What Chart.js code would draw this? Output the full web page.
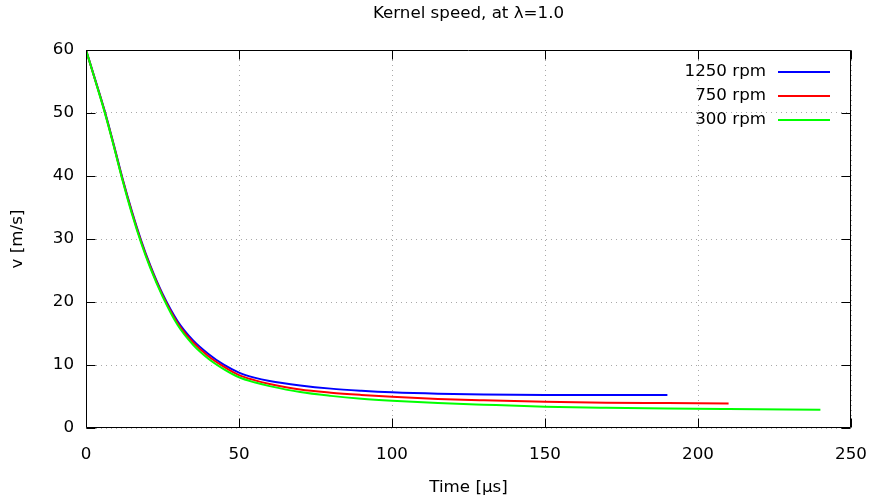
<!DOCTYPE html>
<html>
<head>
<meta charset="utf-8">
<script src="https://cdn.jsdelivr.net/npm/chart.js@4/dist/chart.umd.min.js"></script>
<style>
  html, body { margin: 0; padding: 0; background: #fff; }
  canvas { display: block; }
</style>
</head>
<body>
<canvas id="c" width="872" height="504"></canvas>
<script>
// Kernel speed vs. time for three rotor speeds (time in µs, speed in m/s)
const seriesLabels = ['1250 rpm', '750 rpm', '300 rpm'];
const seriesColors = ['#0000ff', '#ff0000', '#00ff00'];

const t1250 = [0, 3, 6, 9, 12, 15, 18, 21, 25, 30, 35, 40, 45, 50, 55, 60, 70, 80, 90, 100, 115, 130, 150, 170, 190];
const v1250 = [60, 55.3, 50.5, 45.1, 39.5, 34.4, 29.8, 25.8, 21.3, 16.9, 13.9, 11.75, 10.05, 8.8, 8.0, 7.45, 6.75, 6.25, 5.92, 5.67, 5.44, 5.32, 5.24, 5.22, 5.22];

const t750 = [0, 3, 6, 9, 12, 15, 18, 21, 25, 30, 35, 40, 45, 50, 55, 60, 70, 80, 90, 100, 115, 130, 150, 170, 190, 210];
const v750 = [60, 55.25, 50.4, 45.0, 39.35, 34.2, 29.6, 25.6, 21.1, 16.6, 13.6, 11.4, 9.75, 8.4, 7.6, 7.0, 6.1, 5.6, 5.25, 4.97, 4.62, 4.4, 4.18, 4.02, 3.96, 3.9];

const t300 = [0, 3, 6, 9, 12, 15, 18, 21, 25, 30, 35, 40, 45, 50, 55, 60, 70, 80, 90, 100, 115, 130, 150, 170, 190, 210, 240];
const v300 = [60, 55.2, 50.3, 44.9, 39.2, 34.0, 29.4, 25.4, 20.9, 16.3, 13.2, 11.0, 9.35, 8.05, 7.25, 6.65, 5.7, 5.1, 4.65, 4.33, 3.97, 3.7, 3.38, 3.2, 3.08, 3.0, 2.9];

const xTickValues = [0, 50, 100, 150, 200, 250];
const yTickValues = [0, 10, 20, 30, 40, 50, 60];

const titleText = 'Kernel speed, at λ=1.0';
const xTitle = 'Time [µs]';
const yTitle = 'v [m/s]';

const FONT = 'DejaVu Sans';
const FSIZE = 16.7;

const toPoints = (ts, vs) => ts.map((t, i) => ({ x: t, y: vs[i] }));
const times = [t1250, t750, t300];
const speeds = [v1250, v750, v300];

const datasets = seriesLabels.map((lab, i) => ({
  label: lab,
  data: toPoints(times[i], speeds[i]),
  borderColor: seriesColors[i],
  backgroundColor: seriesColors[i],
  borderWidth: 2,
  pointRadius: 0,
  fill: false,
  cubicInterpolationMode: 'monotone',
  order: seriesLabels.length - i   // later series drawn on top
}));

// gnuplot-like frame, mirrored inward ticks, title, axis titles and key
const framePlugin = {
  id: 'frame',
  afterDraw(chart) {
    const { ctx, chartArea: a, scales } = chart;
    const L = Math.round(a.left) + 0.5, R = Math.round(a.right) - 0.5;
    const T = Math.round(a.top) + 0.5, B = Math.round(a.bottom) - 0.5;
    const tick = 9;
    ctx.save();
    ctx.strokeStyle = '#000';
    ctx.lineWidth = 1;
    ctx.beginPath();
    ctx.rect(L, T, R - L, B - T);
    scales.x.ticks.forEach(tk => {
      const x = Math.round(scales.x.getPixelForValue(tk.value)) + 0.5;
      ctx.moveTo(x, B); ctx.lineTo(x, B - tick);
      ctx.moveTo(x, T); ctx.lineTo(x, T + tick);
    });
    scales.y.ticks.forEach(tk => {
      const y = Math.round(scales.y.getPixelForValue(tk.value)) + 0.5;
      ctx.moveTo(L, y); ctx.lineTo(L + tick, y);
      ctx.moveTo(R, y); ctx.lineTo(R - tick, y);
    });
    ctx.stroke();

    ctx.fillStyle = '#000';
    ctx.font = FSIZE + 'px "' + FONT + '"';
    ctx.textBaseline = 'middle';
    ctx.textAlign = 'center';
    const cx = (a.left + a.right) / 2;
    ctx.fillText(titleText, cx, 14);
    ctx.fillText(xTitle, cx, 488);
    ctx.save();
    ctx.translate(18, (a.top + a.bottom) / 2);
    ctx.rotate(-Math.PI / 2);
    ctx.fillText(yTitle, 0, 0);
    ctx.restore();

    // key, text to the left of the line sample
    chart.data.datasets.forEach((ds, i) => {
      const y = a.top + 22 + i * 24;
      ctx.textAlign = 'right';
      ctx.fillStyle = '#000';
      ctx.fillText(ds.label, a.right - 85, y);
      ctx.strokeStyle = ds.borderColor;
      ctx.lineWidth = 2;
      ctx.beginPath();
      ctx.moveTo(a.right - 73, Math.round(y));
      ctx.lineTo(a.right - 21, Math.round(y));
      ctx.stroke();
    });
    ctx.restore();
  }
};

new Chart(document.getElementById('c'), {
  type: 'line',
  data: { datasets },
  options: {
    responsive: false,
    animation: false,
    devicePixelRatio: 1,
    layout: { padding: { left: 0, top: 50, right: 21, bottom: 0 } },
    plugins: { legend: { display: false }, title: { display: false }, tooltip: { enabled: false } },
    scales: {
      x: {
        type: 'linear',
        min: xTickValues[0],
        max: xTickValues[xTickValues.length - 1],
        afterBuildTicks(scale) { scale.ticks = xTickValues.map(v => ({ value: v })); },
        afterFit(scale) {
          scale.height = 76;
          scale.paddingLeft = 0; scale.paddingRight = 0;
          scale.paddingTop = 0; scale.paddingBottom = 0;
        },
        ticks: { color: '#000', padding: 17, font: { family: FONT, size: FSIZE }, maxRotation: 0 },
        grid: { color: '#a8a8a8', lineWidth: 1, drawTicks: false },
        border: { display: false, dash: [1, 4] }
      },
      y: {
        type: 'linear',
        min: yTickValues[0],
        max: yTickValues[yTickValues.length - 1],
        afterBuildTicks(scale) { scale.ticks = yTickValues.map(v => ({ value: v })); },
        afterFit(scale) {
          scale.width = 86;
          scale.paddingLeft = 0; scale.paddingRight = 0;
          scale.paddingTop = 0; scale.paddingBottom = 0;
        },
        ticks: { color: '#000', padding: 12, font: { family: FONT, size: FSIZE } },
        grid: { color: '#a8a8a8', lineWidth: 1, drawTicks: false },
        border: { display: false, dash: [1, 4] }
      }
    }
  },
  plugins: [framePlugin]
});
</script>
</body>
</html>
